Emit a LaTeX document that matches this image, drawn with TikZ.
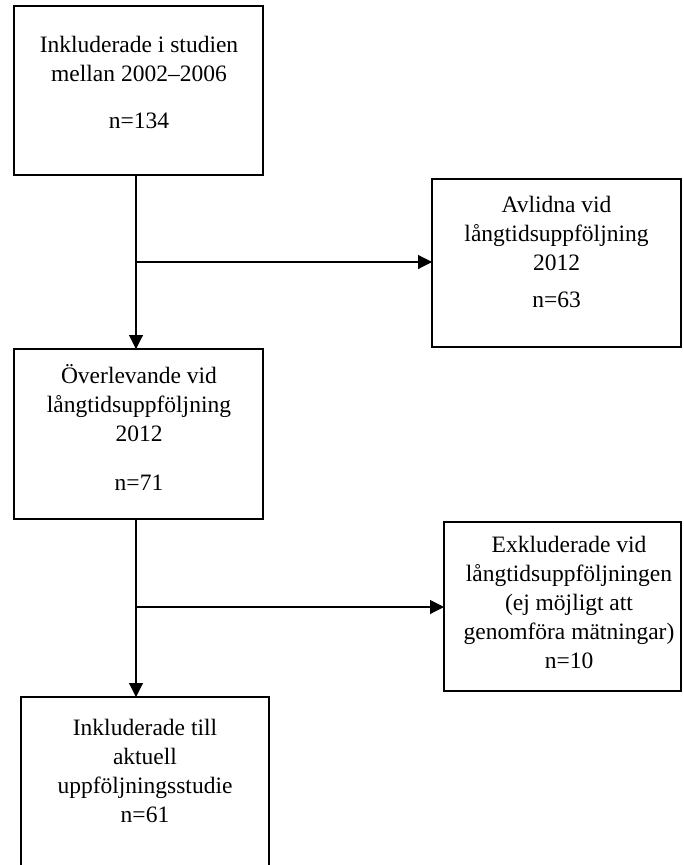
\documentclass[tikz,border=0pt]{standalone}
\usepackage{fontspec}
\setmainfont{Liberation Serif}
\usetikzlibrary{arrows.meta}
\begin{document}
\begin{tikzpicture}[x=1pt,y=-1pt,
  box/.style={draw=black,line width=2pt,rectangle,inner sep=0pt,outer sep=0pt,anchor=north west},
  lbl/.style={align=center,inner sep=0pt,outer sep=0pt,anchor=north,font=\fontsize{23.5}{29}\selectfont},
  conn/.style={draw=black,line width=1.1pt},
  arr/.style={conn,-{Triangle[length=14pt,width=14pt]}}]
\clip (0,0) rectangle (683,865);
\fill[white] (0,0) rectangle (683,865);
% boxes
\node[box,minimum width=249pt,minimum height=169pt] (b1) at (14,6) {};
\node[box,minimum width=249pt,minimum height=168pt] (b2) at (432,179) {};
\node[box,minimum width=249pt,minimum height=170pt] (b3) at (14,349) {};
\node[box,minimum width=237pt,minimum height=169pt] (b4) at (444,522) {};
\node[box,minimum width=248pt,minimum height=200pt] (b5) at (21,697) {};
% texts
\node[lbl] (t1) at (139,30) {\rule{0pt}{22pt}Inkluderade i studien\\ mellan 2002–2006\\[18pt] n=134};
\node[lbl] (t2) at (556.5,190) {\rule{0pt}{22pt}Avlidna vid\\ långtidsuppföljning\\ 2012\\[8pt] n=63};
\node[lbl] (t3) at (139,361) {\rule{0pt}{22pt}Överlevande vid\\ långtidsuppföljning\\ 2012\\[20pt] n=71};
\node[lbl] (t4) at (569,530) {\rule{0pt}{22pt}Exkluderade vid\\ långtidsuppföljningen\\ (ej möjligt att\\ genomföra mätningar)\\ n=10};
\node[lbl] (t5) at (145,713) {\rule{0pt}{22pt}Inkluderade till\\ aktuell\\ uppföljningsstudie\\ n=61};
% connectors
\coordinate (j1) at (136,262);
\coordinate (j2) at (136,607);
\draw[arr] (b1.south -| j1) -- (b3.north -| j1);
\draw[arr] (j1) -- (j1 -| b2.west);
\draw[arr] (b3.south -| j2) -- (b5.north -| j2);
\draw[arr] (j2) -- (j2 -| b4.west);
\end{tikzpicture}
\end{document}
